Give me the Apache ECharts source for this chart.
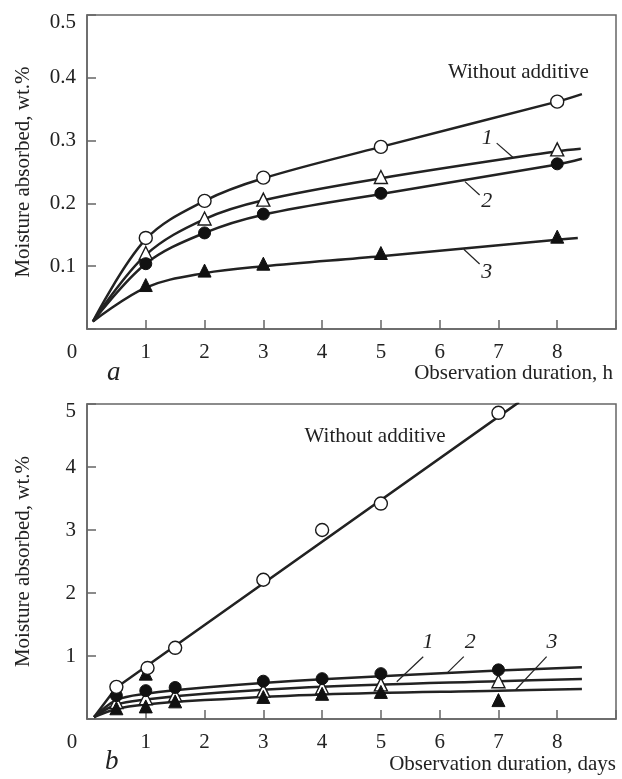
<!DOCTYPE html>
<html>
<head>
<meta charset="utf-8">
<script src="https://cdn.jsdelivr.net/npm/echarts@6/dist/echarts.min.js"></script>
<style>
  html, body { margin: 0; padding: 0; background: #fff; }
  #chart { width: 622px; height: 779px; }
</style>
</head>
<body>
<div id="chart"></div>
<script>
// ---- Panel a: moisture uptake over hours ----
const hoursA = [1, 2, 3, 5, 8];
const noAdditiveA = [0.145, 0.204, 0.241, 0.290, 0.362];
const additive1A = [0.121, 0.176, 0.206, 0.242, 0.286];
const additive2A = [0.104, 0.153, 0.183, 0.216, 0.263];
const additive3A = [0.070, 0.093, 0.104, 0.121, 0.147];

// fitted curves for panel a, [hours, wt.%]
const fitNoAdditiveA = [[0.1, 0.012], [1, 0.143], [2, 0.204], [3, 0.240], [5, 0.290], [8, 0.362], [8.42, 0.374]];
const fit1A = [[0.1, 0.012], [1, 0.118], [2, 0.175], [3, 0.205], [5, 0.240], [8, 0.283], [8.4, 0.287]];
const fit2A = [[0.1, 0.012], [1, 0.104], [2, 0.153], [3, 0.182], [5, 0.215], [8, 0.262], [8.42, 0.271]];
const fit3A = [[0.1, 0.012], [1, 0.066], [2, 0.089], [3, 0.100], [5, 0.116], [8, 0.142], [8.35, 0.145]];

const yTicksA = [0.1, 0.2, 0.3, 0.4, 0.5];

// ---- Panel b: moisture uptake over days ----
const daysB = [0.5, 1, 1.5, 3, 4, 5, 7];
const daysNoAdditiveB = [0.5, 1.03, 1.5, 3, 4, 5, 7];
const noAdditiveB = [0.51, 0.81, 1.13, 2.21, 3.0, 3.42, 4.86];
const additive1B = [0.27, 0.33, 0.38, 0.45, 0.50, 0.55, 0.60];
const additive2B = [0.37, 0.45, 0.50, 0.60, 0.64, 0.72, 0.78];
const days3B = [0.5, 1, 1, 1.5, 3, 4, 5, 7];
const additive3B = [0.17, 0.72, 0.20, 0.28, 0.35, 0.40, 0.43, 0.30];

// fitted curves for panel b, [days, wt.%]
const fitNoAdditiveB = [[0.12, 0.03], [0.5, 0.5], [7.35, 5.03]];
const fit1B = [[0.12, 0.03], [0.5, 0.23], [1, 0.31], [2, 0.40], [4, 0.51], [7, 0.60], [8.42, 0.635]];
const fit2B = [[0.12, 0.03], [0.5, 0.30], [1, 0.40], [2, 0.50], [4, 0.63], [7, 0.77], [8.42, 0.82]];
const fit3B = [[0.12, 0.03], [0.5, 0.16], [1, 0.23], [2, 0.30], [4, 0.39], [7, 0.45], [8.42, 0.476]];

const yTicksB = [1, 2, 3, 4, 5];
const xTicks = [0, 1, 2, 3, 4, 5, 6, 7, 8];

const FONT = '"Liberation Serif", "DejaVu Serif", serif';
const INK = '#222222';
const FRAME = '#666666';

function zip(xs, ys) { return xs.map((x, i) => [x, ys[i]]); }

function markerSeries(grid, data, symbol, filled, size) {
  return {
    type: 'scatter', xAxisIndex: grid, yAxisIndex: grid, z: 5,
    data: data, symbol: symbol, symbolSize: size,
    itemStyle: filled
      ? { color: '#111111', borderColor: '#111111', borderWidth: 1, opacity: 1 }
      : { color: '#ffffff', borderColor: '#1a1a1a', borderWidth: 1.4, opacity: 1 }
  };
}

function curveSeries(grid, data, smooth, leader, label) {
  const s = {
    type: 'line', xAxisIndex: grid, yAxisIndex: grid, z: 3,
    data: data, showSymbol: false, smooth: smooth,
    lineStyle: { color: INK, width: 2.5 }
  };
  if (leader) {
    s.markLine = {
      silent: true, symbol: ['none', 'none'], animation: false,
      lineStyle: { color: INK, width: 1.2, type: 'solid' },
      label: { show: false },
      data: [[{ coord: leader[0] }, { coord: leader[1] }]]
    };
  }
  if (label) {
    s.markPoint = {
      silent: true, symbol: 'circle', symbolSize: 1, animation: false,
      itemStyle: { color: 'rgba(0,0,0,0)' },
      label: {
        show: true, position: 'inside', formatter: label.text,
        fontFamily: FONT, fontSize: label.size, fontStyle: label.italic ? 'italic' : 'normal',
        color: INK
      },
      data: [{ coord: label.at }]
    };
  }
  return s;
}

function xAxis(grid) {
  return {
    type: 'value', gridIndex: grid, min: 0, max: 9, interval: 1,
    axisLine: { show: true, lineStyle: { color: FRAME, width: 1.5 } },
    axisTick: { show: true, inside: true, length: 9, lineStyle: { color: FRAME, width: 1.5 } },
    splitLine: { show: false },
    axisLabel: {
      margin: 13, fontFamily: FONT, fontSize: 21, color: INK,
      formatter: v => (xTicks.indexOf(v) < 0 ? '' : (v === 0 ? '{z|0}' : String(v))),
      rich: { z: { fontFamily: FONT, fontSize: 21, color: INK, padding: [0, 30, 0, 0] } }
    }
  };
}

function yAxis(grid, max, interval, ticks, fmt) {
  return {
    type: 'value', gridIndex: grid, min: 0, max: max, interval: interval,
    name: 'Moisture absorbed, wt.%', nameLocation: 'middle', nameGap: 53, nameRotate: 90,
    nameTextStyle: { fontFamily: FONT, fontSize: 21, color: INK },
    axisLine: { show: true, lineStyle: { color: FRAME, width: 1.5 } },
    axisTick: { show: true, inside: true, length: 9, lineStyle: { color: FRAME, width: 1.5 } },
    splitLine: { show: false },
    axisLabel: {
      margin: 11, fontFamily: FONT, fontSize: 21, color: INK,
      formatter: v => {
        const hit = ticks.find(t => Math.abs(t - v) < 1e-9);
        if (hit === undefined) return '';
        return Math.abs(hit - max) < 1e-9 ? '{top|' + fmt(hit) + '}' : fmt(hit);
      },
      rich: { top: { fontFamily: FONT, fontSize: 21, color: INK, padding: [14, 0, 0, 0] } }
    }
  };
}

const chart = echarts.init(document.getElementById('chart'), null, { renderer: 'canvas' });

chart.setOption({
  animation: false,
  backgroundColor: '#ffffff',
  grid: [
    { left: 87, top: 15, right: 6, height: 314, show: true, borderColor: FRAME, borderWidth: 1.5 },
    { left: 87, top: 404, right: 6, height: 315, show: true, borderColor: FRAME, borderWidth: 1.5 }
  ],
  xAxis: [xAxis(0), xAxis(1)],
  yAxis: [
    yAxis(0, 0.5, 0.1, yTicksA, v => v.toFixed(1)),
    yAxis(1, 5, 1, yTicksB, v => String(v))
  ],
  series: [
    // panel a curves
    curveSeries(0, fitNoAdditiveA, 0.35, null,
      { text: 'Without additive', at: [7.34, 0.408], size: 21, italic: false }),
    curveSeries(0, fit1A, 0.35, [[6.97, 0.296], [7.25, 0.273]],
      { text: '1', at: [6.81, 0.303], size: 22, italic: true }),
    curveSeries(0, fit2A, 0.35, [[6.43, 0.2346], [6.68, 0.2134]],
      { text: '2', at: [6.80, 0.203], size: 22, italic: true }),
    curveSeries(0, fit3A, 0.35, [[6.41, 0.1269], [6.68, 0.1035]],
      { text: '3', at: [6.80, 0.091], size: 22, italic: true }),
    // panel a markers
    markerSeries(0, zip(hoursA, additive1A), 'triangle', false, 13),
    markerSeries(0, zip(hoursA, additive2A), 'circle', true, 12),
    markerSeries(0, zip(hoursA, additive3A), 'triangle', true, 13),
    markerSeries(0, zip(hoursA, noAdditiveA), 'circle', false, 13),

    // panel b curves
    curveSeries(1, fitNoAdditiveB, false, null,
      { text: 'Without additive', at: [4.90, 4.49], size: 21, italic: false }),
    curveSeries(1, fit1B, 0.35, [[5.72, 0.989], [5.27, 0.592]],
      { text: '1', at: [5.80, 1.222], size: 22, italic: true }),
    curveSeries(1, fit2B, 0.35, [[6.41, 0.989], [6.12, 0.725]],
      { text: '2', at: [6.52, 1.222], size: 22, italic: true }),
    curveSeries(1, fit3B, 0.35, [[7.82, 0.989], [7.29, 0.46]],
      { text: '3', at: [7.91, 1.222], size: 22, italic: true }),
    // panel b markers
    markerSeries(1, zip(daysB, additive1B), 'triangle', false, 13),
    markerSeries(1, zip(days3B, additive3B), 'triangle', true, 13),
    markerSeries(1, zip(daysB, additive2B), 'circle', true, 12),
    markerSeries(1, zip(daysNoAdditiveB, noAdditiveB), 'circle', false, 13)
  ],
  graphic: [
    { type: 'text', right: 9, top: 363,
      style: { text: 'Observation duration, h', fontFamily: FONT, fontSize: 21, fill: INK } },
    { type: 'text', left: 107, top: 359,
      style: { text: 'a', fontFamily: FONT, fontSize: 27, fontStyle: 'italic', fill: INK } },
    { type: 'text', right: 6, top: 754,
      style: { text: 'Observation duration, days', fontFamily: FONT, fontSize: 21, fill: INK } },
    { type: 'text', left: 105, top: 748,
      style: { text: 'b', fontFamily: FONT, fontSize: 27, fontStyle: 'italic', fill: INK } }
  ]
});
</script>
</body>
</html>
